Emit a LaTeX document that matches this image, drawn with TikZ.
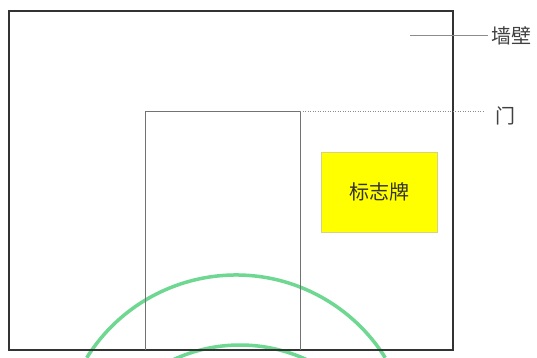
\documentclass[tikz,border=0pt]{standalone}
\usepackage{fontspec}
\newfontfamily\cjk{Noto Sans CJK SC}
\definecolor{wmgreen}{RGB}{110,215,145}
\definecolor{signyellow}{RGB}{255,255,0}
\begin{document}
\begin{tikzpicture}[x=1pt,y=-1pt,
  wallbox/.style={draw=black!80,line width=1.5pt,minimum width=444pt,minimum height=339pt,inner sep=0pt,outer sep=0pt},
  doorbox/.style={minimum width=155pt,minimum height=239pt,inner sep=0pt,outer sep=0pt},
  doorline/.style={draw=black!55,line width=0.8pt},
  signbox/.style={draw=yellow!70!black!60,fill=signyellow,line width=0.6pt,minimum width=116pt,minimum height=80pt,inner sep=0pt,font=\cjk\fontsize{20}{20}\selectfont,text=black!80},
  labeltext/.style={font=\cjk\fontsize{20}{20}\selectfont,text=black!75,inner sep=0pt},
  leader/.style={draw=black!45,line width=0.5pt},
  wmark/.style={draw=wmgreen,line width=3.5pt}
]
\useasboundingbox (0,0) rectangle (537,358);
\begin{scope}
\clip (0,0) rectangle (537,358);
\draw[wmark] (236,451) ++(-148:176) arc[start angle=-148,end angle=-32,radius=176];
\draw[wmark] (240,504) ++(-115:159) arc[start angle=-115,end angle=-65,radius=159];
\end{scope}
\node[wallbox] (wall) at (231,180.5) {};
\node[doorbox] (door) at (222.5,230.5) {};
\draw[doorline] (door.south west) |- (door.north east) -- (door.south east);
\node[signbox] (sign) at (379,192) {标志牌};
\node[labeltext] (lwall) at (511,36) {墙壁};
\node[labeltext] (ldoor) at (505,116) {门};
\coordinate (wallpt) at (410,35);
\draw[leader] (wallpt) -- ([xshift=-3pt]lwall.west |- wallpt);
\draw[leader,dotted,line width=0.8pt] (door.north east) -- ([xshift=-10pt]ldoor.west |- door.north east);
\end{tikzpicture}
\end{document}
